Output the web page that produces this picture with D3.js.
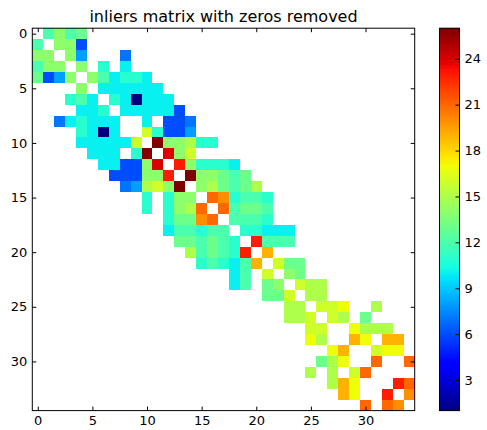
<!DOCTYPE html>
<html>
<head>
<meta charset="utf-8">
<script src="https://cdn.jsdelivr.net/npm/d3@7"></script>
<style>
  html, body { margin: 0; padding: 0; background: white; }
  svg { display: block; }
  text { font-family: "DejaVu Sans", sans-serif; fill: black; }
  .axis text { font-size: 13px; }
  .axis line { stroke: black; stroke-width: 1; }
  .axis path { display: none; }
</style>
</head>
<body>
<svg id="chart" width="487" height="430"></svg>
<script>
/*************************
 *  data
*************************/

const titleText = "inliers matrix with zeros removed"
const matrixTicks = [0, 5, 10, 15, 20, 25, 30]
const colorTicks = [3, 6, 9, 12, 15, 18, 21, 24]
const colorRange = [1, 26]

// 0 means no inliers, those cells stay white
const inliers = [
  [ 0,12,14,12,13, 0, 0, 0, 0, 0, 0, 0, 0, 0, 0, 0, 0, 0, 0, 0, 0, 0, 0, 0, 0, 0, 0, 0, 0, 0, 0, 0, 0, 0, 0],
  [12, 0,14,14, 6, 0, 0, 0, 0, 0, 0, 0, 0, 0, 0, 0, 0, 0, 0, 0, 0, 0, 0, 0, 0, 0, 0, 0, 0, 0, 0, 0, 0, 0, 0],
  [14,14, 0,14, 8, 0, 0, 0, 7, 0, 0, 0, 0, 0, 0, 0, 0, 0, 0, 0, 0, 0, 0, 0, 0, 0, 0, 0, 0, 0, 0, 0, 0, 0, 0],
  [12,14,14, 0,14, 0,11, 0,10, 0, 0, 0, 0, 0, 0, 0, 0, 0, 0, 0, 0, 0, 0, 0, 0, 0, 0, 0, 0, 0, 0, 0, 0, 0, 0],
  [13, 6, 8,14, 0,14,12,10,11,11,10, 0, 0, 0, 0, 0, 0, 0, 0, 0, 0, 0, 0, 0, 0, 0, 0, 0, 0, 0, 0, 0, 0, 0, 0],
  [ 0, 0, 0, 0,14, 0,10,10,10,10,10,10, 0, 0, 0, 0, 0, 0, 0, 0, 0, 0, 0, 0, 0, 0, 0, 0, 0, 0, 0, 0, 0, 0, 0],
  [ 0, 0, 0,11,12,10, 0,11,10, 1,10,10,10, 0, 0, 0, 0, 0, 0, 0, 0, 0, 0, 0, 0, 0, 0, 0, 0, 0, 0, 0, 0, 0, 0],
  [ 0, 0, 0, 0,10,10,11, 0,10,10,10,10,10, 6, 0, 0, 0, 0, 0, 0, 0, 0, 0, 0, 0, 0, 0, 0, 0, 0, 0, 0, 0, 0, 0],
  [ 0, 0, 7,10,11,10,10,10, 0, 0,10, 0, 6, 6, 7, 0, 0, 0, 0, 0, 0, 0, 0, 0, 0, 0, 0, 0, 0, 0, 0, 0, 0, 0, 0],
  [ 0, 0, 0, 0,11,10, 1,10, 0, 0,16,11, 6, 6, 8, 0, 0, 0, 0, 0, 0, 0, 0, 0, 0, 0, 0, 0, 0, 0, 0, 0, 0, 0, 0],
  [ 0, 0, 0, 0,10,10,10,10,10,16, 0,26,14,14,15,11,11, 0, 0, 0, 0, 0, 0, 0, 0, 0, 0, 0, 0, 0, 0, 0, 0, 0, 0],
  [ 0, 0, 0, 0, 0,10,10,10, 0,11,26, 0,24,14,16, 0, 0, 0, 0, 0, 0, 0, 0, 0, 0, 0, 0, 0, 0, 0, 0, 0, 0, 0, 0],
  [ 0, 0, 0, 0, 0, 0,10,10, 6, 6,14,24, 0,23,14,11,11,11,10, 0, 0, 0, 0, 0, 0, 0, 0, 0, 0, 0, 0, 0, 0, 0, 0],
  [ 0, 0, 0, 0, 0, 0, 0, 6, 6, 6,14,14,23, 0,26,14,14,13,12,13, 0, 0, 0, 0, 0, 0, 0, 0, 0, 0, 0, 0, 0, 0, 0],
  [ 0, 0, 0, 0, 0, 0, 0, 0, 7, 8,15,16,14,26, 0,14,15,13,12,13,15, 0, 0, 0, 0, 0, 0, 0, 0, 0, 0, 0, 0, 0, 0],
  [ 0, 0, 0, 0, 0, 0, 0, 0, 0, 0,11, 0,11,14,14, 0,21,20,11,12,12,11, 0, 0, 0, 0, 0, 0, 0, 0, 0, 0, 0, 0, 0],
  [ 0, 0, 0, 0, 0, 0, 0, 0, 0, 0,11, 0,11,14,15,21, 0,21,12,13,13,12, 0, 0, 0, 0, 0, 0, 0, 0, 0, 0, 0, 0, 0],
  [ 0, 0, 0, 0, 0, 0, 0, 0, 0, 0, 0, 0,11,13,13,20,21, 0,12,12,12,11, 0, 0, 0, 0, 0, 0, 0, 0, 0, 0, 0, 0, 0],
  [ 0, 0, 0, 0, 0, 0, 0, 0, 0, 0, 0, 0,10,12,12,11,12,12, 0,11,11,10,10,10, 0, 0, 0, 0, 0, 0, 0, 0, 0, 0, 0],
  [ 0, 0, 0, 0, 0, 0, 0, 0, 0, 0, 0, 0, 0,13,13,12,13,12,11, 0,23,12,12,12, 0, 0, 0, 0, 0, 0, 0, 0, 0, 0, 0],
  [ 0, 0, 0, 0, 0, 0, 0, 0, 0, 0, 0, 0, 0, 0,15,12,13,12,11,23, 0,19, 0, 0, 0, 0, 0, 0, 0, 0, 0, 0, 0, 0, 0],
  [ 0, 0, 0, 0, 0, 0, 0, 0, 0, 0, 0, 0, 0, 0, 0,11,12,11,10,12,19, 0,16,13,13, 0, 0, 0, 0, 0, 0, 0, 0, 0, 0],
  [ 0, 0, 0, 0, 0, 0, 0, 0, 0, 0, 0, 0, 0, 0, 0, 0, 0, 0,10,12, 0,16, 0,14,13, 0, 0, 0, 0, 0, 0, 0, 0, 0, 0],
  [ 0, 0, 0, 0, 0, 0, 0, 0, 0, 0, 0, 0, 0, 0, 0, 0, 0, 0,10,12, 0,13,14, 0,16,15,15, 0, 0, 0, 0, 0, 0, 0, 0],
  [ 0, 0, 0, 0, 0, 0, 0, 0, 0, 0, 0, 0, 0, 0, 0, 0, 0, 0, 0, 0, 0,13,13,16, 0,15,15, 0, 0, 0, 0, 0, 0, 0, 0],
  [ 0, 0, 0, 0, 0, 0, 0, 0, 0, 0, 0, 0, 0, 0, 0, 0, 0, 0, 0, 0, 0, 0, 0,15,15, 0,16,16,17, 0, 0,15, 0, 0, 0],
  [ 0, 0, 0, 0, 0, 0, 0, 0, 0, 0, 0, 0, 0, 0, 0, 0, 0, 0, 0, 0, 0, 0, 0,15,15,16, 0,16,15, 0,13, 0, 0, 0, 0],
  [ 0, 0, 0, 0, 0, 0, 0, 0, 0, 0, 0, 0, 0, 0, 0, 0, 0, 0, 0, 0, 0, 0, 0, 0, 0,16,16, 0, 0,17,15,15,15, 0, 0],
  [ 0, 0, 0, 0, 0, 0, 0, 0, 0, 0, 0, 0, 0, 0, 0, 0, 0, 0, 0, 0, 0, 0, 0, 0, 0,17,15, 0, 0,19,17, 0,19,19, 0],
  [ 0, 0, 0, 0, 0, 0, 0, 0, 0, 0, 0, 0, 0, 0, 0, 0, 0, 0, 0, 0, 0, 0, 0, 0, 0, 0, 0,17,19, 0, 0,16,17,17, 0],
  [ 0, 0, 0, 0, 0, 0, 0, 0, 0, 0, 0, 0, 0, 0, 0, 0, 0, 0, 0, 0, 0, 0, 0, 0, 0, 0,13,15,17, 0, 0,21, 0, 0,21],
  [ 0, 0, 0, 0, 0, 0, 0, 0, 0, 0, 0, 0, 0, 0, 0, 0, 0, 0, 0, 0, 0, 0, 0, 0, 0,15, 0,15, 0,16,21, 0, 0, 0, 0],
  [ 0, 0, 0, 0, 0, 0, 0, 0, 0, 0, 0, 0, 0, 0, 0, 0, 0, 0, 0, 0, 0, 0, 0, 0, 0, 0, 0,15,19,17, 0, 0, 0,23,21],
  [ 0, 0, 0, 0, 0, 0, 0, 0, 0, 0, 0, 0, 0, 0, 0, 0, 0, 0, 0, 0, 0, 0, 0, 0, 0, 0, 0, 0,19,17, 0, 0,23, 0,20],
  [ 0, 0, 0, 0, 0, 0, 0, 0, 0, 0, 0, 0, 0, 0, 0, 0, 0, 0, 0, 0, 0, 0, 0, 0, 0, 0, 0, 0, 0, 0,21, 0,21,20, 0]
]

/*************************
 *  scales
*************************/

const svg = d3.select('#chart')

const plot = {left: 32.3, right: 414.7, top: 28.2, bottom: 410.6}
const bar = {left: 439.5, right: 459.5, top: 28.2, bottom: 410.6}

const x = d3.scaleLinear().domain([-0.5, 34.5]).range([plot.left, plot.right])
const y = d3.scaleLinear().domain([-0.5, 34.5]).range([plot.top, plot.bottom])
const barY = d3.scaleLinear().domain(colorRange).range([bar.bottom, bar.top])

// matplotlib's jet, channel by channel
const jetR = d3.scaleLinear().domain([0, .35, .66, .89, 1]).range([0, 0, 1, 1, .5]).clamp(true)
const jetG = d3.scaleLinear().domain([0, .125, .375, .64, .91, 1]).range([0, 0, 1, 1, 0, 0]).clamp(true)
const jetB = d3.scaleLinear().domain([0, .11, .34, .65, 1]).range([.5, 1, 1, 0, 0]).clamp(true)
const jet = t => d3.rgb(jetR(t) * 255, jetG(t) * 255, jetB(t) * 255).formatHex()

const color = d3.scaleSequential(jet).domain(colorRange)

/*************************
 *  matrix cells
*************************/

const cells = inliers.flatMap((row, r) => row.map((v, c) => ({r, c, v}))).filter(d => d.v > 0)

svg.append('g')
    .attr('id', 'cellG')
  .selectAll('.cell')
  .data(cells)
  .join('rect')
    .attr('class', 'cell')
    .attr('x', d => x(d.c - 0.5))
    .attr('y', d => y(d.r - 0.5))
    .attr('width', d => x(d.c + 0.5) - x(d.c - 0.5))
    .attr('height', d => y(d.r + 0.5) - y(d.r - 0.5))
    .attr('fill', d => color(d.v))
    .attr('shape-rendering', 'crispEdges')

/*************************
 *  axes and frame
*************************/

const tickLen = 4

svg.append('g').attr('class', 'axis')
    .attr('transform', `translate(0,${plot.bottom})`)
    .call(d3.axisBottom(x).tickValues(matrixTicks).tickSizeInner(-tickLen).tickSizeOuter(0).tickPadding(5))
svg.append('g').attr('class', 'axis')
    .attr('transform', `translate(0,${plot.top})`)
    .call(d3.axisTop(x).tickValues(matrixTicks).tickSizeInner(-tickLen).tickSizeOuter(0).tickFormat(''))
svg.append('g').attr('class', 'axis')
    .attr('transform', `translate(${plot.left},0)`)
    .call(d3.axisLeft(y).tickValues(matrixTicks).tickSizeInner(-tickLen).tickSizeOuter(0).tickPadding(5))
svg.append('g').attr('class', 'axis')
    .attr('transform', `translate(${plot.right},0)`)
    .call(d3.axisRight(y).tickValues(matrixTicks).tickSizeInner(-tickLen).tickSizeOuter(0).tickFormat(''))

svg.append('rect')
    .attr('x', plot.left)
    .attr('y', plot.top)
    .attr('width', plot.right - plot.left)
    .attr('height', plot.bottom - plot.top)
    .attr('fill', 'none')
    .attr('stroke', 'black')
    .attr('stroke-width', 1)

svg.append('text')
    .attr('x', (plot.left + plot.right) / 2)
    .attr('y', 22)
    .attr('text-anchor', 'middle')
    .style('font-size', '16px')
    .text(titleText)

/*************************
 *  colorbar
*************************/

const barSteps = d3.range(256).map(i => colorRange[0] + (colorRange[1] - colorRange[0]) * i / 255)
const stepH = (bar.bottom - bar.top) / 256

svg.append('g')
    .attr('id', 'barG')
  .selectAll('.barStep')
  .data(barSteps)
  .join('rect')
    .attr('class', 'barStep')
    .attr('x', bar.left)
    .attr('y', (d, i) => bar.bottom - (i + 1) * stepH)
    .attr('width', bar.right - bar.left)
    .attr('height', stepH + 0.5)
    .attr('fill', d => color(d))
    .attr('shape-rendering', 'crispEdges')

svg.append('g').attr('class', 'axis')
    .attr('transform', `translate(${bar.right},0)`)
    .call(d3.axisRight(barY).tickValues(colorTicks).tickSizeInner(-tickLen).tickSizeOuter(0).tickPadding(5))

svg.append('rect')
    .attr('x', bar.left)
    .attr('y', bar.top)
    .attr('width', bar.right - bar.left)
    .attr('height', bar.bottom - bar.top)
    .attr('fill', 'none')
    .attr('stroke', 'black')
    .attr('stroke-width', 1)
</script>
</body>
</html>
